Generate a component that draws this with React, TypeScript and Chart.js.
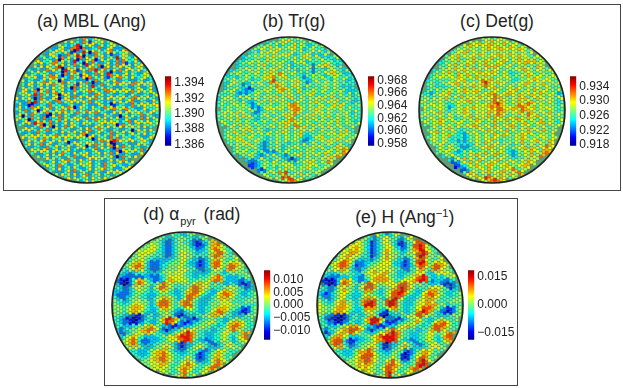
import React, { useEffect, useRef } from "react";
import { Chart, registerables } from "chart.js";
Chart.register(...registerables);

// Colour level (0 lowest .. 9 highest on each panel's colour bar) of every lattice cell, row by row.
// Spaces only group the columns; a dot is a lattice cell outside the disc.
const mblLevels = [
"43753465","5364437526546346","3564347815364375346534",
"43656347183753645346734367","365443572635841375436253465","45346527364587163574634538465436",
"6344537164538143657136453473754463","536345764635374518364735634736253546","35463654781364536346743176354635634653",
"4536357364518367235374856341637463546345","63543464736417364526634736387463563543465","354633646753643745361735463245374536345634",
"5346354736451736453637417354536736453746354","43653463637456354726453834735463645374635463","356453164536456341735463643574635364534653463",
"4653473647367463536435473564374635463746354653","3546383745356136537364635745346354634573546346","63546413753467146636453463745363546346736453463",
"45337183645734735463536473564341636453743645364","36341736453745463751365436345746254634735364546","45373461365436475364354735463453745376453463465",
"36453764537153636453745364734634636453546745634","46153745371364735436453745363645361364534736453","53461346353745746354634534754636453467364536345",
"4536385714735346365436453456354613745346354645","635437453163574634536346754635463546453634",
"453634754735436453645367346543745364513645364","35463646354735364536713645354736453464536345","6354634753645364536454613645374735463456346",
"463546346536461363546453473618364536345643","46354735436453643654163745367163745346354","3645367346354634536345736453173645364736",
"45364536347543635463456364736136453463","534635463453743653645354631374536","6453463745363463645346353743",
"45346345634536456345374534635463","36453734536435463453745634536","45363463745346354634536346","5364536345734653463546","4635346536453645","53463645",
];
const trLevels = [
"46575465","3546576457465354","5465746354657465436546",
"45365465764546546345646435","345465746546576345465343465","34546564657564654645765465343456",
"4354656457565465456465364546545343","34546546575465654634546542465765434","354645465646576546354546525463765453",
"3546546556465765465546354542454657654354","35465465465465765865465443546554365765434","4546354653545676846575465423455465436546534",
"43565453464654589756546575423465465465453443","3564542435456546587654676546545456546543434","35465432124546565678765465354654565465454343",
"4546532323456546545765654754657546546546436354","45465436465465465657465765465465464657546545345","35656543546365465756565475465465657546575465434",
"46545654643246554654565748645465765465654654354","45465465654232465646565788765465466546757546445","5465456546542346564654578865465765465546545464",
"45646574654323465465465768754657656465465564354","54656465756543546546547675465756546575465465454","46546575465434565465465787564654656546575465434",
"4654657465465454654657658654657465465465465546","465465765465454646575468675465465765465446",
"4657546576465436465765465764654565465465754","46546575465464654654654657434546546565766546","4565765465465435465465465432346575465765465",
"45465765465423546546354532346546576545465","5465657654323546534546546546565465476543","46546546432354653465465465654654657687",
"46565465354232354654647465646576546587","3546543235465432354654654654657687","342346543465432123546565465765",
"2123465465465643546576546586","112346546354656546576465465","2124654657465465465465","46546587954657465465","6546598965465454","55689865",
];
const detLevels = [
"56574665","5657465756576546","4657564657657564765465",
"45657565465756575646576546","456575465765465756576546546","45657465675465576576546575654565",
"3546575465756576546576465756757465","34565746576546575657654654657464565","454657564657465675765465465756547654",
"3546575465765657465765465354657654655465","34546565476575465676565465435465765465546","454645465765465765657465465434546576546545",
"35434546576575464689765756543546576465646546","45434354657465675678765465465465765465765454","35464546546576465654657654565765465765465546",
"3423546575465765675465765465765465646576546423","45435465654657465657657687657465765476565465463","46546565754546576565656786765465767654756565436",
"55465465435465657465465789765465765876565465434","46546565423465465765657878765657887657465655445","5465465435465765465656768876576587765465465434",
"46546575465465765465657568765465765876546575465","54565465465354657465657476754657465765765465454","46546576546546546576546575657465765465475465436",
"4546576465465465765465475465765467654657465465","465465754635465765465765465754657465465455",
"4657465465434546546576546574654657546575465","46546575434235465465476576546576465465546","4565465434342354654657654545465765465465465",
"46546543423235465476546354546575465765476","5465465432323465465765465435465465465876","46546554323435465765465435465757654676",
"45465432354654657465765432354657465787","3546543546576465475465423546576587","324657465476546576546354657565",
"1124657465465765465465465765","0123465765476546576546576","1124654657546576587465","46765465746576576587","6576598765765465","65789876",
];
const alphaLevels = [
"..... ..... ..... ....5 44334 55... ..... ..... ..... ..",
"..... ..... ..... 54333 45554 43345 5.... ..... ..... ..",
"..... ..... ..555 43223 45544 32123 4577. ..... ..... ..",
"..... ..... 55665 43223 45554 32112 35778 6.... ..... ..",
"..... ....5 56665 43223 45555 43223 45787 654.. ..... ..",
"..... ..566 66654 43223 45665 54334 45678 8654. ..... ..",
"..... .5566 65544 43223 45665 54444 45788 75545 ..... ..",
"..... 45566 54433 33334 45665 43322 34677 65445 6.... ..",
"....4 56776 53222 33445 55654 33212 34788 65567 66... ..",
"...45 67887 53222 34455 56654 43212 34788 65788 765.. ..",
"...44 56776 43222 34555 56665 44322 33566 54787 6554. ..",
"..433 23444 43333 45565 66654 43333 34555 43455 5555. ..",
"..322 22222 33222 34566 66654 43344 45678 74333 34455 ..",
".2100 24677 54322 34677 66665 44555 56788 74333 32234 ..",
".3100 24787 65445 78765 54555 56776 65454 43344 32112 3.",
"44322 35665 54356 88765 44445 78876 65444 45566 54322 3.",
"33322 34565 54345 67654 33456 78876 54334 67765 54433 4.",
"32222 34554 43334 55544 33457 88764 43346 78876 54334 45",
"43223 45554 43345 67765 43468 87543 33456 77765 44444 55",
"54433 45665 54346 88875 45788 75433 34455 66654 44455 55",
"55444 56766 54347 88875 45788 85433 34555 66665 55444 44",
"55545 67776 54334 67765 43456 65433 44567 77655 43212 45",
"55545 67765 43334 55654 32234 44433 45678 87543 32112 45",
"54433 22112 34433 45654 21123 33445 56777 65443 33345 55",
"44321 10012 34434 67998 75332 21234 45554 43345 55444 5.",
"44322 10123 44334 57987 63211 23445 56654 43567 77654 4.",
".4433 34455 67765 43321 12233 44556 55443 44678 87654 4.",
".3234 45567 78876 32123 34567 66554 44334 45678 76544 ..",
"..223 45666 77654 43334 56789 87544 33344 56654 45787 ..",
"..345 67654 33334 45566 78999 87544 33344 56543 5678. ..",
"...56 78742 22333 44566 67899 85433 22344 56543 4566. ..",
"...56 78743 23344 55654 32123 34555 43223 45665 445.. ..",
"....5 67654 33345 56765 32123 45665 43333 45566 55... ..",
"..... 44433 34566 77654 33234 55432 23456 66544 4.... ..",
"..... .4433 34567 78765 44344 54212 34567 6544. ..... ..",
"..... ..544 45677 88765 44456 54212 34577 6545. ..... ..",
"..... ....5 55667 78765 44567 65323 34678 765.. ..... ..",
"..... ..... 55666 77654 45678 76544 45688 7.... ..... ..",
"..... ..... ..566 66554 56787 65445 6787. ..... ..... ..",
"..... ..... ..... 56554 45786 54456 6.... ..... ..... ..",
"..... ..... ..... ....5 56785 46... ..... ..... ..... ..",
];
const hLevels = [
"..... ..... ..... ....6 44234 65... ..... ..... ..... ..",
"..... ..... ..... 54323 46654 43246 6.... ..... ..... ..",
"..... ..... ..665 43123 46654 32134 5688. ..... ..... ..",
"..... ..... 66665 43123 45664 31124 48898 6.... ..... ..",
"..... ....5 66765 43123 45665 43224 57898 654.. ..... ..",
"..... ..566 77765 43123 46765 54335 56789 8654. ..... ..",
"..... .5667 76654 43123 46765 54444 56899 75545 ..... ..",
"..... 45667 65533 33234 56765 43322 45788 65445 6.... ..",
"....5 66887 64222 33445 56664 33212 45899 75567 66... ..",
"...45 67887 53122 34556 66654 43212 34788 65788 765.. ..",
"...55 66776 43223 45665 66665 44322 44677 54787 6554. ..",
"..433 34555 44334 56676 67755 43334 45666 43356 6665. ..",
"..322 22333 43322 45667 77654 43345 56789 84334 34556 ..",
".1000 13677 64322 34677 77765 44666 67899 84233 32234 ..",
".2100 13787 65445 78865 55666 67887 65554 43334 21112 3.",
"54322 35665 54356 88875 44556 78987 65444 45666 54212 3.",
"43322 45676 54345 77754 34567 88986 54334 67775 54433 4.",
"32123 45664 43334 65544 34568 89874 43346 78876 54334 45",
"43223 45664 43345 77765 43578 98643 33456 77765 44444 55",
"54433 56775 54347 88985 45899 85433 34566 77654 44455 55",
"65444 56776 54347 99985 45899 85433 34566 77775 55344 44",
"65545 67776 54334 77775 43567 75433 44668 88755 32112 45",
"65545 77765 43334 56654 31134 44533 45789 87543 21012 45",
"54322 11012 34433 45754 10023 33446 56887 65443 33345 55",
"44211 00012 34434 67999 75222 11234 55664 43345 55444 5.",
"44322 10123 44334 57998 63111 23445 56754 43567 78654 4.",
".4433 34556 77765 43321 11233 45667 55443 44788 87654 4.",
".3234 45677 88876 32123 34678 76554 44334 45788 76544 ..",
"..123 56776 87654 43335 66789 87544 33344 56654 56787 ..",
"..345 77765 33334 45567 89999 87544 33344 56543 5788. ..",
"...57 88842 11233 44567 78999 85433 22344 56543 4677. ..",
"...57 88743 12344 55664 31023 34565 43223 45665 445.. ..",
"....5 67754 23345 56765 31123 45675 43333 45666 55... ..",
"..... 44433 34576 78754 33234 55421 23456 76544 4.... ..",
"..... .4433 34567 88865 44345 54101 24567 7644. ..... ..",
"..... ..544 45678 88765 44456 54101 34688 7545. ..... ..",
"..... ....5 55677 88765 44678 65323 45789 865.. ..... ..",
"..... ..... 55676 77654 45788 76544 45899 8.... ..... ..",
"..... ..... ..566 76554 56887 65445 7887. ..... ..... ..",
"..... ..... ..... 56654 45897 54456 6.... ..... ..... ..",
"..... ..... ..... ....5 56895 46... ..... ..... ..... ..",
];

const jet = (t: number) => {
  const c = (v: number) => Math.round(255 * Math.max(0, Math.min(1, v)));
  return `rgb(${c(1.5 - Math.abs(4 * t - 3))},${c(1.5 - Math.abs(4 * t - 2))},${c(1.5 - Math.abs(4 * t - 1))})`;
};

type Panel = {
  levels: string[]; lo: number; hi: number; center: number; gain: number; ticks: number[]; title: React.ReactNode;
  cx: number; cy: number; barX: number; barY: number; barH: number; titleX: number; titleY: number;
};

const PANELS: Panel[] = [
  { levels: mblLevels, lo: 1.3858, hi: 1.3949, center: 4.7, gain: 1.15, ticks: [1.386, 1.388, 1.39, 1.392, 1.394], title: "(a) MBL (Ang)", cx: 86.7, cy: 110.3, barX: 165, barY: 74, barH: 74.3, titleX: 91.5, titleY: 21 },
  { levels: trLevels, lo: 0.9577, hi: 0.96865, center: 4.6, gain: 0.8, ticks: [0.958, 0.96, 0.962, 0.964, 0.966, 0.968], title: "(b) Tr(g)", cx: 289, cy: 110.3, barX: 368, barY: 73.5, barH: 74.3, titleX: 293.8, titleY: 21 },
  { levels: detLevels, lo: 0.91775, hi: 0.93675, center: 4.9, gain: 0.8, ticks: [0.918, 0.922, 0.926, 0.93, 0.934], title: "(c) Det(g)", cx: 492, cy: 110.3, barX: 570, barY: 74, barH: 74.3, titleX: 497, titleY: 21 },
  { levels: alphaLevels, lo: -0.01368, hi: 0.01368, center: 4.6, gain: 0.9, ticks: [-0.01, -0.005, 0, 0.005, 0.01], title: <>(d) α<sub style={{ fontSize: 11, margin: "0 3px 0 1px" }}>pyr</sub> (rad)</>, cx: 185.4, cy: 305, barX: 263.5, barY: 267.7, barH: 74.3, titleX: 191.7, titleY: 217 },
  { levels: hLevels, lo: -0.0186, hi: 0.0186, center: 4.8, gain: 0.9, ticks: [-0.015, 0, 0.015], title: <>(e) H (Ang<sup style={{ fontSize: 11 }}>−1</sup>)</>, cx: 390, cy: 304.7, barX: 468, barY: 267.7, barH: 74.3, titleX: 404.7, titleY: 215 },
];

const COLS = 47, ROWS = 41, R = 73, DX = 3.1, DY = 3.6, M = 3;

const discPlugin = {
  id: "disc",
  beforeDatasetsDraw(chart: any) {
    const { ctx, scales } = chart;
    const x0 = scales.x.getPixelForValue(0), y0 = scales.y.getPixelForValue(0);
    ctx.save();
    ctx.beginPath(); ctx.arc(x0, y0, R, 0, Math.PI * 2);
    ctx.fillStyle = "#5f9f74"; ctx.fill();
    ctx.clip();
  },
  afterDatasetsDraw(chart: any) {
    const { ctx, scales } = chart;
    ctx.restore();
    const x0 = scales.x.getPixelForValue(0), y0 = scales.y.getPixelForValue(0);
    ctx.save();
    ctx.beginPath(); ctx.arc(x0, y0, R, 0, Math.PI * 2);
    ctx.lineWidth = 1.6; ctx.strokeStyle = "#222"; ctx.stroke();
    ctx.restore();
  },
};

function Disc({ p }: { p: Panel }) {
  const ref = useRef<HTMLCanvasElement>(null);
  useEffect(() => {
    const pts: any[] = [];
    p.levels.forEach((raw, j) => {
      const row = raw.replace(/ /g, "");
      const start = row.length === COLS ? 0 : Math.round((COLS - row.length) / 2);
      [...row].forEach((ch, k) => {
        if (ch === ".") return;
        const i = start + k;
        pts.push({
          x: i - (COLS - 1) / 2,
          y: j - (ROWS - 1) / 2 + (i % 2 ? 0.5 : 0) - 0.25,
          v: p.lo + ((p.center + p.gain * (Number(ch) - 4.5)) / 10) * (p.hi - p.lo),
        });
      });
    });
    const chart = new Chart(ref.current!, {
      type: "scatter",
      data: {
        datasets: [{
          data: pts,
          backgroundColor: (c: any) => jet((c.raw.v - p.lo) / (p.hi - p.lo)),
          borderColor: "rgba(40,60,40,0.4)",
          borderWidth: 0.4,
          pointStyle: "rect",
          pointRadius: 2.2,
          clip: false,
        }],
      },
      options: {
        animation: false, responsive: false, events: [],
        layout: { padding: M },
        plugins: { legend: { display: false }, tooltip: { enabled: false } },
        scales: {
          x: { display: false, min: -R / DX, max: R / DX },
          y: { display: false, min: -R / DY, max: R / DY, reverse: true },
        },
      },
      plugins: [discPlugin],
    } as any);
    return () => chart.destroy();
  }, []);
  const s = 2 * (R + M);
  return <canvas ref={ref} width={s} height={s} style={{ position: "absolute", left: p.cx - R - M, top: p.cy - R - M, width: s, height: s }} />;
}

function ColorBar({ p }: { p: Panel }) {
  const ref = useRef<HTMLCanvasElement>(null);
  const W = 56, PAD = 8;
  useEffect(() => {
    const chart = new Chart(ref.current!, {
      type: "bar",
      data: {
        labels: [""],
        datasets: [{
          data: [[p.lo, p.hi]],
          barPercentage: 1, categoryPercentage: 1, borderWidth: 0,
          backgroundColor: (c: any) => {
            const a = c.chart.chartArea;
            if (!a) return "#000";
            const g = c.chart.ctx.createLinearGradient(0, a.bottom, 0, a.top);
            for (let i = 0; i <= 16; i++) g.addColorStop(i / 16, jet(0.5 / 64 + (i / 16) * (63 / 64)));
            return g;
          },
        }],
      },
      options: {
        animation: false, responsive: false, events: [],
        layout: { padding: { top: PAD, bottom: PAD, left: 0, right: 0 } },
        plugins: { legend: { display: false }, tooltip: { enabled: false } },
        scales: {
          x: { display: false },
          y: {
            position: "right", min: p.lo, max: p.hi,
            afterBuildTicks: (ax: any) => { ax.ticks = p.ticks.map((value) => ({ value })); },
            afterFit: (ax: any) => { ax.width = W - 6.3; },
            grid: { display: false, drawTicks: false }, border: { display: false },
            ticks: {
              padding: 3, color: "#222", autoSkip: false, maxRotation: 0,
              font: { family: "'Liberation Sans'", size: 12 },
              callback: (v: any) => (v < 0 ? "−" : "") + Math.abs(Number(v)).toFixed(3),
            },
          },
        },
      },
    } as any);
    return () => chart.destroy();
  }, []);
  const h = p.barH + 2 * PAD;
  return <canvas ref={ref} width={W} height={h} style={{ position: "absolute", left: p.barX, top: p.barY - PAD, width: W, height: h }} />;
}

const frame = (l: number, t: number, w: number, h: number): React.CSSProperties => ({
  position: "absolute", left: l, top: t, width: w, height: h, border: "1px solid #444", boxSizing: "border-box",
});

export default function App() {
  return (
    <div style={{ position: "absolute", left: 0, top: 0, width: 623, height: 388, overflow: "hidden", background: "#fff", fontFamily: "'Liberation Sans'" }}>
      <div style={frame(3, 4, 618, 187)} />
      <div style={frame(104, 198, 414, 188)} />
      {PANELS.map((p, i) => (
        <React.Fragment key={i}>
          <div style={{ position: "absolute", left: p.titleX, top: p.titleY, transform: "translate(-50%,-50%)", fontSize: 17.5, whiteSpace: "nowrap", color: "#222", lineHeight: "20px" }}>{p.title}</div>
          <Disc p={p} />
          <ColorBar p={p} />
        </React.Fragment>
      ))}
    </div>
  );
}
